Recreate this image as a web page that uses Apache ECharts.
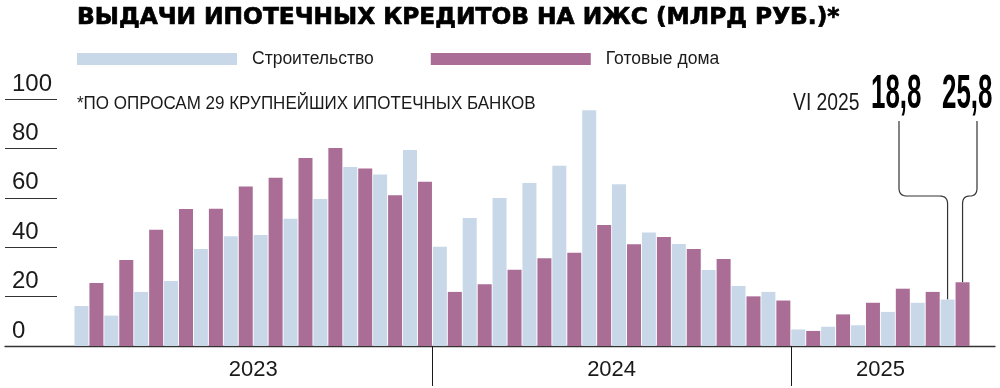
<!DOCTYPE html>
<html>
<head>
<meta charset="utf-8">
<script src="https://cdn.jsdelivr.net/npm/echarts@6/dist/echarts.min.js"></script>
<style>
html,body{margin:0;padding:0;background:#fff;}
#c{width:1000px;height:388px;}
</style>
</head>
<body>
<div id="c"></div>
<script>
const categories = ['I 2023','II 2023','III 2023','IV 2023','V 2023','VI 2023','VII 2023','VIII 2023','IX 2023','X 2023','XI 2023','XII 2023',
  'I 2024','II 2024','III 2024','IV 2024','V 2024','VI 2024','VII 2024','VIII 2024','IX 2024','X 2024','XI 2024','XII 2024',
  'I 2025','II 2025','III 2025','IV 2025','V 2025','VI 2025'];
const construction = [16.2, 12.3, 21.9, 26.3, 39.3, 44.4, 44.9, 51.5, 59.5, 72.5, 69.4, 79.4,
  40.2, 51.8, 59.9, 66.0, 73.0, 95.4, 65.5, 46.0, 41.3, 30.8, 24.3, 21.9,
  6.7, 7.8, 8.4, 13.8, 17.5, 18.8];
const ready = [25.5, 34.8, 47.1, 55.5, 55.6, 64.6, 68.1, 76.1, 80.2, 71.9, 61.0, 66.5,
  21.9, 25.0, 30.9, 35.5, 37.8, 49.0, 41.2, 44.1, 39.3, 35.2, 20.1, 18.4,
  6.1, 12.8, 17.5, 23.2, 21.9, 25.8];
const seriesNames = ['Строительство', 'Готовые дома'];
const yTicks = [0, 20, 40, 60, 80, 100];
const years = ['2023', '2024', '2025'];
const yearMonthCounts = [12, 12, 6];
const titleText = 'ВЫДАЧИ ИПОТЕЧНЫХ КРЕДИТОВ НА ИЖС (МЛРД РУБ.)*';
const noteText = '*ПО ОПРОСАМ 29 КРУПНЕЙШИХ ИПОТЕЧНЫХ БАНКОВ';
const lastLabel = 'VI 2025';
const lastConstruction = '18,8';
const lastReady = '25,8';

const BLUE = '#c8d8e8', PURPLE = '#a96d96', INK = '#1a1a1a';
const SANS = '"Liberation Sans", Arial, sans-serif';

// year label positions (center of each year group) and boundaries, in month units
const yearCenters = {}; const yearBounds = [];
let acc = 0;
years.forEach((y, i) => { yearCenters[acc + yearMonthCounts[i] / 2] = y; acc += yearMonthCounts[i]; if (acc < categories.length) yearBounds.push(acc); });

const chart = echarts.init(document.getElementById('c'), null, {renderer: 'canvas'});
const gridTop = 99, gridBottom = 42;

const option = {
  animation: false,
  backgroundColor: '#fff',
  title: [{
    text: titleText, left: 77, top: 6, padding: 0,
    textStyle: {fontFamily: '"DejaVu Sans", sans-serif', fontWeight: 900, fontSize: 23.3, color: '#000',
      textBorderColor: '#000', textBorderWidth: 0.7}
  }],
  legend: {
    left: 77, top: 50, padding: 0, itemWidth: 160, itemHeight: 12, itemGap: 57, icon: 'rect',
    data: seriesNames, selectedMode: false,
    textStyle: {fontFamily: SANS, fontSize: 17.5, color: INK, padding: [0, 0, 0, 10]}
  },
  grid: [
    {left: 74, right: 30, top: gridTop, bottom: gridBottom},
    {left: 5, width: 52, top: gridTop, bottom: gridBottom},
    {left: 5, right: 5, top: gridTop, bottom: gridBottom}
  ],
  xAxis: [
    {type: 'category', gridIndex: 0, data: categories, boundaryGap: true,
     axisLine: {show: false}, axisLabel: {show: false}, axisTick: {show: false}, splitLine: {show: false}},
    {type: 'value', gridIndex: 0, min: 0, max: categories.length, interval: 3, position: 'bottom',
     axisLine: {show: false}, splitLine: {show: false},
     axisTick: {show: true, length: 40, customValues: yearBounds, lineStyle: {color: INK, width: 1}},
     axisLabel: {show: true, margin: 13, customValues: Object.keys(yearCenters).map(Number),
       formatter: (v) => yearCenters[v] || '',
       fontFamily: SANS, fontSize: 22, color: INK}},
    {type: 'value', gridIndex: 1, show: false, min: 0, max: 1},
    {type: 'value', gridIndex: 2, min: 0, max: 1, axisLine: {show: true, lineStyle: {color: '#333', width: 1.3}},
     axisTick: {show: false}, axisLabel: {show: false}, splitLine: {show: false}}
  ],
  yAxis: [
    {type: 'value', gridIndex: 0, min: yTicks[0], max: yTicks[yTicks.length - 1], show: false},
    {type: 'value', gridIndex: 1, min: yTicks[0], max: yTicks[yTicks.length - 1], interval: yTicks[1] - yTicks[0],
     axisLine: {show: false}, axisTick: {show: false},
     splitLine: {show: true, lineStyle: {color: '#333', width: 1}},
     axisLabel: {inside: true, margin: 7, align: 'left', verticalAlign: 'bottom', padding: [0, 0, 3, 0],
       fontFamily: SANS, fontSize: 24, color: INK}},
    {type: 'value', gridIndex: 2, show: false, min: 0, max: 1}
  ],
  series: [
    {name: seriesNames[0], type: 'bar', xAxisIndex: 0, yAxisIndex: 0, data: construction,
     itemStyle: {color: BLUE}, barCategoryGap: '3%', barGap: '7%', silent: true},
    {name: seriesNames[1], type: 'bar', xAxisIndex: 0, yAxisIndex: 0, data: ready,
     itemStyle: {color: PURPLE}, barCategoryGap: '3%', barGap: '7%', silent: true}
  ]
};
chart.setOption(option);

function barTop(seriesIndex, idx) {
  try {
    const data = chart.getModel().getSeriesByIndex(seriesIndex).getData();
    const l = data.getItemLayout(idx);
    return {x: l.x + l.width / 2, y: Math.min(l.y, l.y + l.height)};
  } catch (e) {
    const p = chart.convertToPixel({gridIndex: 0}, [idx, seriesIndex === 0 ? construction[idx] : ready[idx]]);
    return {x: p[0] + (seriesIndex === 0 ? -7.5 : 7.5), y: p[1]};
  }
}
function quad(pts, p0, p1, p2) {
  for (let i = 1; i <= 8; i++) {
    const t = i / 8, u = 1 - t;
    pts.push([u * u * p0[0] + 2 * u * t * p1[0] + t * t * p2[0], u * u * p0[1] + 2 * u * t * p1[1] + t * t * p2[1]]);
  }
}
const last = categories.length - 1;
const b0 = barTop(0, last), b1 = barTop(1, last);
const t0x = 899, t1x = 977, topY = 121, elbowY = 196, r = 8;
const pts0 = [[t0x, topY], [t0x, elbowY - r]];
quad(pts0, [t0x, elbowY - r], [t0x, elbowY], [t0x + r, elbowY]);
pts0.push([b0.x - r, elbowY]);
quad(pts0, [b0.x - r, elbowY], [b0.x, elbowY], [b0.x, elbowY + r]);
pts0.push([b0.x, b0.y]);
const pts1 = [[t1x, topY], [t1x, elbowY - r]];
const mid1 = (t1x + b1.x) / 2;
quad(pts1, [t1x, elbowY - r], [t1x, elbowY], [mid1, elbowY]);
quad(pts1, [mid1, elbowY], [b1.x, elbowY], [b1.x, elbowY + r]);
pts1.push([b1.x, b1.y]);

chart.setOption({
  graphic: [
    {type: 'text', x: 77, y: 104, scaleX: 0.895, style: {text: noteText, x: 0, y: 0, verticalAlign: 'middle', align: 'left',
      font: '19px ' + SANS, fill: INK}},
    {type: 'text', x: 793, y: 104, scaleX: 0.84, style: {text: lastLabel, x: 0, y: 0, verticalAlign: 'middle', align: 'left',
      font: '23px ' + SANS, fill: INK}},
    {type: 'text', x: 871, y: 95, scaleX: 0.54, style: {text: lastConstruction, x: 0, y: 0, verticalAlign: 'middle', align: 'left',
      font: 'bold 48px ' + SANS, fill: '#000'}},
    {type: 'text', x: 942, y: 95, scaleX: 0.54, style: {text: lastReady, x: 0, y: 0, verticalAlign: 'middle', align: 'left',
      font: 'bold 48px ' + SANS, fill: '#000'}},
    {type: 'polyline', shape: {points: pts0}, style: {fill: null, stroke: '#333', lineWidth: 1.2}},
    {type: 'polyline', shape: {points: pts1}, style: {fill: null, stroke: '#333', lineWidth: 1.2}}
  ]
});
</script>
</body>
</html>
